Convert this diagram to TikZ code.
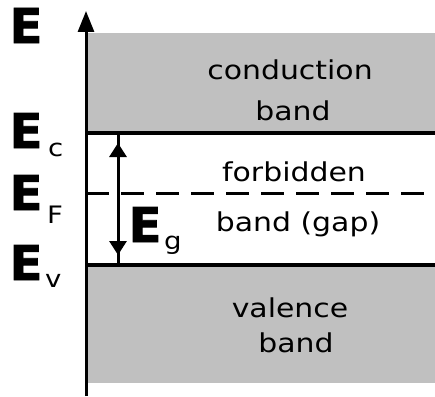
\documentclass[tikz,border=0pt]{standalone}
\usepackage{fontspec}
\setmainfont{DejaVu Sans}
\newfontfamily\lblfont[FakeStretch=1.15]{DejaVu Sans}
\newfontfamily\bigfont[FakeBold=1.5]{DejaVu Sans Bold}
\usetikzlibrary{arrows.meta}
\definecolor{bandgray}{RGB}{192,192,192}
\begin{document}
\begin{tikzpicture}[x=1pt,y=-1pt,
  lbl/.style={font=\lblfont\fontsize{26}{26}\selectfont, inner sep=0pt, anchor=base},
  bigE/.style={font=\bigfont\fontsize{48}{48}\selectfont, inner sep=0pt, anchor=base west},
  subs/.style={font=\lblfont\fontsize{24}{24}\selectfont, inner sep=0pt, anchor=base west},
  level/.style={line width=3.5pt},
  thin/.style={line width=3pt},
  band/.style={fill=bandgray, draw=none}]
\path[use as bounding box] (0,0) rectangle (435,396);
% coordinates
\coordinate (axisbot) at (86,396);
\coordinate (axistop) at (86,11);
\coordinate (ecL) at (86,133);
\coordinate (ecR) at (435,133);
\coordinate (efL) at (86,193);
\coordinate (efR) at (435,193);
\coordinate (evL) at (86,265);
\coordinate (evR) at (435,265);
\coordinate (gtop) at (118,133);
\coordinate (gbot) at (118,265);
\coordinate (gmid) at (118,199);
% bands
\fill[band] (87,33) rectangle (435,133);
\fill[band] (87,265) rectangle (435,383);
% levels
\draw[level] (ecL) -- (ecR);
\draw[level] (evL) -- (evR);
\draw[thin, dash pattern=on 23pt off 12pt] (efL) -- (efR);
% gap arrow
\draw[thin] (gtop) -- (gbot);
\draw[thin, -{Triangle[length=14pt,width=17pt]}, shorten >=10pt] (gmid) -- (gtop);
\draw[thin, -{Triangle[length=14pt,width=17pt]}, shorten >=10pt] (gmid) -- (gbot);
% axis
\draw[thin, -{Triangle[length=21pt,width=16pt]}] (axisbot) -- (axistop);
% labels
\node[bigE] (E) at (9.5,43) {E};
\node[bigE] (Ec) at (9.5,148) {E};
\node[subs] (c) at (48,156) {c};
\node[bigE] (Ef) at (9.5,210) {E};
\node[subs] (F) at (47,223) {F};
\node[bigE] (Ev) at (9.5,280) {E};
\node[subs] (v) at (45,287) {v};
\node[bigE] (Eg) at (128.5,242) {E};
\node[subs] (g) at (164,249) {g};
\node[lbl] (cond) at (290,79) {conduction};
\node[lbl] (cband) at (293,120) {band};
\node[lbl] (forb) at (294,181) {forbidden};
\node[lbl] (gap) at (298,231) {band (gap)};
\node[lbl] (val) at (290,317) {valence};
\node[lbl] (vband) at (296,352) {band};
\end{tikzpicture}
\end{document}
